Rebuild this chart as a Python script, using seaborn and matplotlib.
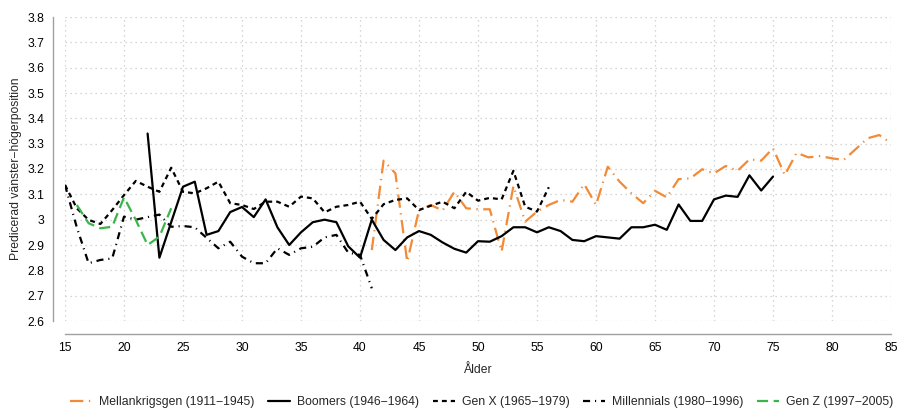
import numpy as np
import pandas as pd
import matplotlib
matplotlib.use("Agg")
import matplotlib.pyplot as plt
import seaborn as sns

# ---- data ----
mellan_age = list(range(41, 86))
mellan_val = [2.88, 3.233, 3.183, 2.834, 3.038, 3.058, 3.036, 3.11, 3.045, 3.041,
              3.041, 2.874, 3.133, 2.992, 3.032, 3.058, 3.078, 3.071, 3.14, 3.058,
              3.209, 3.150, 3.104, 3.065, 3.114, 3.088, 3.16, 3.163, 3.199, 3.183,
              3.212, 3.193, 3.238, 3.233, 3.282, 3.176, 3.264, 3.246, 3.251, 3.242,
              3.236, 3.278, 3.321, 3.334, 3.302]

boomers_age = list(range(22, 76))
boomers_val = [3.34, 2.85, 2.99, 3.13, 3.15, 2.94, 2.955, 3.03, 3.05, 3.01,
               3.08, 2.97, 2.90, 2.95, 2.99, 3.0, 2.99, 2.895, 2.85, 3.0,
               2.92, 2.88, 2.93, 2.955, 2.94, 2.91, 2.885, 2.87, 2.915, 2.913,
               2.935, 2.97, 2.97, 2.95, 2.97, 2.955, 2.92, 2.915, 2.935, 2.93,
               2.925, 2.97, 2.97, 2.98, 2.96, 3.06, 2.995, 2.995, 3.08, 3.095,
               3.09, 3.175, 3.115, 3.17]

genx_age = list(range(15, 57))
genx_val = [3.137, 3.045, 2.999, 2.983, 3.038, 3.097, 3.153, 3.13, 3.11, 3.205,
            3.11, 3.104, 3.124, 3.15, 3.065, 3.058, 3.042, 3.071, 3.071, 3.051,
            3.091, 3.084, 3.029, 3.051, 3.058, 3.071, 3.003, 3.061, 3.078, 3.084,
            3.038, 3.055, 3.071, 3.045, 3.11, 3.075, 3.086, 3.08, 3.193, 3.051,
            3.032, 3.128]

mill_age = list(range(15, 42))
mill_val = [3.137, 2.97, 2.828, 2.841, 2.847, 3.012, 3.0, 3.01, 3.02, 2.972,
            2.975, 2.97, 2.928, 2.887, 2.913, 2.854, 2.828, 2.828, 2.887, 2.861,
            2.887, 2.893, 2.93, 2.94, 2.87, 2.861, 2.729]

genz_age = list(range(16, 25))
genz_val = [3.058, 2.986, 2.966, 2.972, 3.088, 2.999, 2.9, 2.933, 3.045]

labels = ["Mellankrigsgen (1911\u22121945)", "Boomers (1946\u22121964)",
          "Gen X (1965\u22121979)", "Millennials (1980\u22121996)",
          "Gen Z (1997\u22122005)"]

frames = []
for lab, a, v in zip(labels,
                     [mellan_age, boomers_age, genx_age, mill_age, genz_age],
                     [mellan_val, boomers_val, genx_val, mill_val, genz_val]):
    frames.append(pd.DataFrame({"age": a, "val": v, "gen": lab}))
df = pd.concat(frames, ignore_index=True)

palette = {labels[0]: "#F28A36", labels[1]: "#000000", labels[2]: "#000000",
           labels[3]: "#000000", labels[4]: "#3AB54A"}
dashes = {labels[0]: (6, 2.5, 0.6, 2.5), labels[1]: "",
          labels[2]: (2.2, 1.8), labels[3]: (3.2, 2.2, 0.5, 2.2),
          labels[4]: (5, 2.5)}

sns.set_style("white")
plt.rcParams["font.family"] = ["Liberation Sans", "DejaVu Sans"]

fig = plt.figure(figsize=(9.02, 4.09), dpi=100)
ax = fig.add_axes([65 / 902, 1 - 321 / 409, (891 - 65) / 902, (321 - 17) / 409])

sns.lineplot(data=df, x="age", y="val", hue="gen", style="gen",
             palette=palette, dashes=dashes, hue_order=labels,
             style_order=labels, linewidth=1.6, ax=ax, legend=True,
             estimator=None, sort=True)

ax.set_xlim(15, 85)
ax.set_ylim(2.6, 3.8)
ax.set_xticks(np.arange(15, 86, 5))
yt = np.round(np.arange(2.6, 3.81, 0.1), 1)
ax.set_yticks(yt)
ax.set_yticklabels(["3" if abs(t - 3.0) < 1e-9 else f"{t:.1f}" for t in yt])

ax.grid(True, color="#c8c8c8", linestyle=(0, (1, 3)), linewidth=0.9)
ax.set_axisbelow(True)

for s in ["top", "right"]:
    ax.spines[s].set_visible(False)
for s in ["left", "bottom"]:
    ax.spines[s].set_color("#a0a0a0")
    ax.spines[s].set_linewidth(1.0)
ax.spines["left"].set_position(("outward", 9))
ax.spines["bottom"].set_position(("outward", 9))
ax.tick_params(axis="both", which="major", direction="out", length=4,
               width=1.0, color="#a0a0a0", labelsize=8.7, labelcolor="#000000",
               pad=2)

ax.set_xlabel("\u00c5lder", fontsize=8.7, labelpad=7)
ax.set_ylabel("Predicerad v\u00e4nster\u2212h\u00f6gerposition", fontsize=8.7,
              labelpad=4)

handles, labs = ax.get_legend_handles_labels()
ax.get_legend().remove()
fig.legend(handles, labs, loc="center", bbox_to_anchor=(0.534, 0.016),
           ncol=5, frameon=False, fontsize=8.8, handlelength=1.8,
           columnspacing=1.15, handletextpad=0.55, borderpad=0.1)

fig.savefig("out.png", dpi=100)
